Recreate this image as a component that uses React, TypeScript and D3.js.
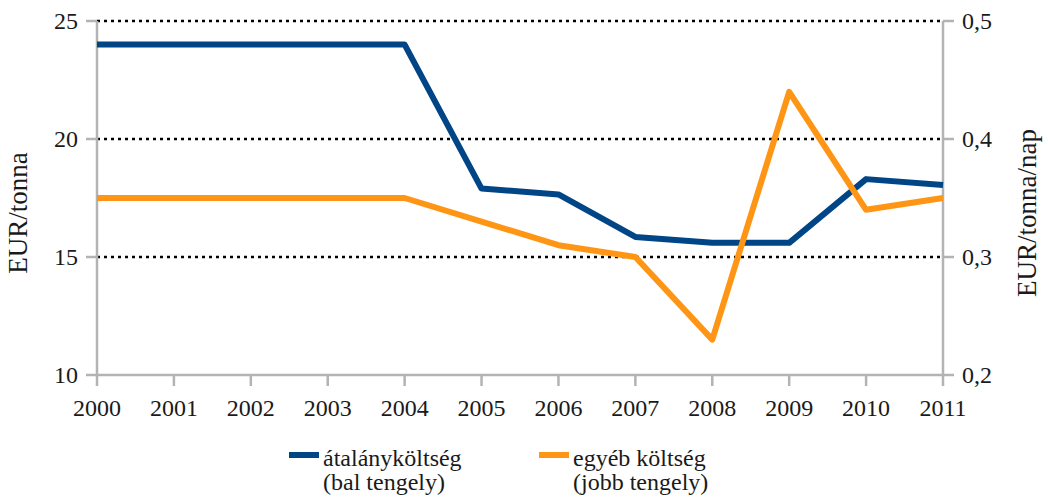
import React from "react";
import * as d3 from "d3";

const years = ["2000", "2001", "2002", "2003", "2004", "2005", "2006", "2007", "2008", "2009", "2010", "2011"];
const flatCost = [24, 24, 24, 24, 24, 17.9, 17.65, 15.85, 15.6, 15.6, 18.3, 18.05];
const otherCost = [0.35, 0.35, 0.35, 0.35, 0.35, 0.33, 0.31, 0.3, 0.23, 0.44, 0.34, 0.35];
const leftTicks = [10, 15, 20, 25];
const rightTicks = [0.2, 0.3, 0.4, 0.5];
const legendItems = [
  { line1: "átalányköltség", line2: "(bal tengely)", color: "#004586" },
  { line1: "egyéb költség", line2: "(jobb tengely)", color: "#ff9514" },
];

const width = 1048;
const height = 497;
const margin = { left: 97, right: 105, top: 21, bottom: 122 };
const font = '"Liberation Serif", "DejaVu Serif", "Times New Roman", serif';
const axisColor = "#b3b3b3";
const textColor = "#1a1a1a";

const App = () => {
  const x = d3
    .scalePoint<string>()
    .domain(years)
    .range([margin.left, width - margin.right]);
  const yLeft = d3
    .scaleLinear()
    .domain([10, 25])
    .range([height - margin.bottom, margin.top]);
  const yRight = d3
    .scaleLinear()
    .domain([0.2, 0.5])
    .range([height - margin.bottom, margin.top]);

  const leftLine = d3
    .line<number>()
    .x((_, i) => x(years[i]) as number)
    .y((d) => yLeft(d));
  const rightLine = d3
    .line<number>()
    .x((_, i) => x(years[i]) as number)
    .y((d) => yRight(d));

  const x0 = margin.left;
  const x1 = width - margin.right;
  const yBottom = height - margin.bottom;
  const fmt = (v: number) => v.toFixed(1).replace(".", ",");
  const ts = { fontFamily: font, fontSize: 24, fill: textColor };
  const titleStyle = { ...ts, fontSize: 27 };

  return (
    <svg
      width={width}
      height={height}
      style={{ position: "absolute", left: 0, top: 0, background: "white", fontFamily: font }}
    >
      <g>
        {leftTicks
          .filter((t) => t > 10)
          .map((t) => (
            <line
              key={t}
              x1={x0}
              x2={x1}
              y1={yLeft(t)}
              y2={yLeft(t)}
              stroke="black"
              strokeWidth={2.5}
              strokeDasharray="3,4"
            />
          ))}
      </g>
      <g>
        <line x1={x0} x2={x0} y1={margin.top} y2={yBottom} stroke={axisColor} strokeWidth={2.5} />
        <line x1={x1} x2={x1} y1={margin.top} y2={yBottom} stroke={axisColor} strokeWidth={2.5} />
        <line x1={x0} x2={x1} y1={yBottom} y2={yBottom} stroke={axisColor} strokeWidth={2.5} />
        {leftTicks.map((t) => (
          <g key={t}>
            <line x1={x0 - 11} x2={x0} y1={yLeft(t)} y2={yLeft(t)} stroke={axisColor} strokeWidth={2.5} />
            <text x={x0 - 19} y={yLeft(t)} dy="0.35em" textAnchor="end" style={ts}>
              {t}
            </text>
          </g>
        ))}
        {rightTicks.map((t) => (
          <g key={t}>
            <line x1={x1} x2={x1 + 11} y1={yRight(t)} y2={yRight(t)} stroke={axisColor} strokeWidth={2.5} />
            <text x={x1 + 19} y={yRight(t)} dy="0.35em" textAnchor="start" style={ts}>
              {fmt(t)}
            </text>
          </g>
        ))}
        {years.map((yr) => (
          <g key={yr}>
            <line
              x1={x(yr)}
              x2={x(yr)}
              y1={yBottom}
              y2={yBottom + 11}
              stroke={axisColor}
              strokeWidth={2.5}
            />
            <text x={x(yr)} y={yBottom + 41} textAnchor="middle" style={ts}>
              {yr}
            </text>
          </g>
        ))}
        <text transform="translate(27, 213) rotate(-90)" textAnchor="middle" style={titleStyle}>
          EUR/tonna
        </text>
        <text transform="translate(1036, 213) rotate(-90)" textAnchor="middle" style={titleStyle}>
          EUR/tonna/nap
        </text>
      </g>
      <path
        d={leftLine(flatCost) ?? ""}
        fill="none"
        stroke={legendItems[0].color}
        strokeWidth={6}
        strokeLinejoin="round"
      />
      <path
        d={rightLine(otherCost) ?? ""}
        fill="none"
        stroke={legendItems[1].color}
        strokeWidth={6}
        strokeLinejoin="round"
      />
      <g>
        {legendItems.map((item, i) => {
          const lx = 289 + i * 250;
          return (
            <g key={item.line1}>
              <rect x={lx} y={452} width={30} height={6} fill={item.color} />
              <text x={lx + 34} y={466} style={ts}>
                {item.line1}
              </text>
              <text x={lx + 34} y={490} style={ts}>
                {item.line2}
              </text>
            </g>
          );
        })}
      </g>
    </svg>
  );
};

export default App;
